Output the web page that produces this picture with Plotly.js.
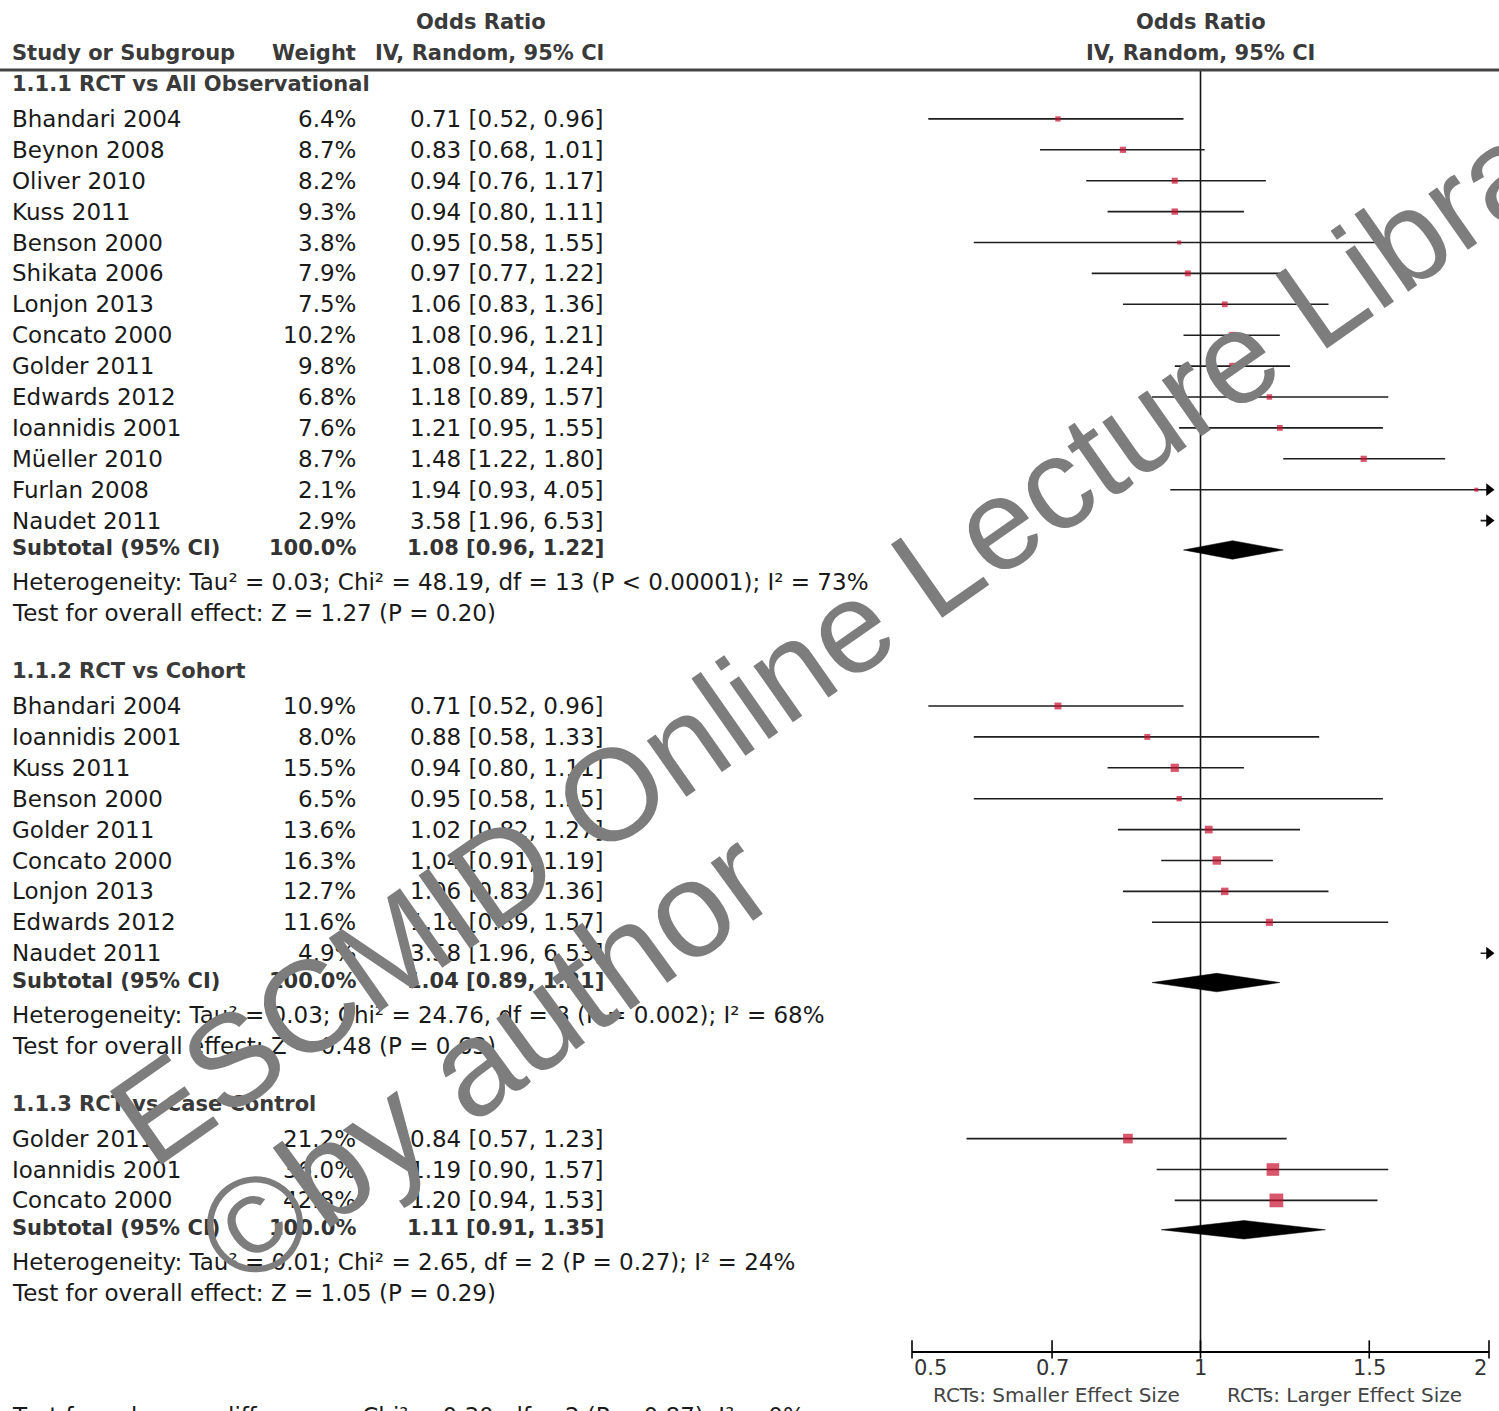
<!DOCTYPE html>
<html><head><meta charset="utf-8">
<script src="https://cdn.plot.ly/plotly-3.0.1.min.js"></script>
<style>html,body{margin:0;padding:0;background:#fff}#chart{width:1499px;height:1411px}</style>
</head><body><div id="chart"></div>
<script>
// ---------- data ----------
const groupTitles = ["1.1.1 RCT vs All Observational", "1.1.2 RCT vs Cohort", "1.1.3 RCT vs Case Control"];

const g1Studies = ["Bhandari 2004","Beynon 2008","Oliver 2010","Kuss 2011","Benson 2000","Shikata 2006","Lonjon 2013","Concato 2000","Golder 2011","Edwards 2012","Ioannidis 2001","Müeller 2010","Furlan 2008","Naudet 2011"];
const g1Weight  = [6.4, 8.7, 8.2, 9.3, 3.8, 7.9, 7.5, 10.2, 9.8, 6.8, 7.6, 8.7, 2.1, 2.9];
const g1OR      = [0.71, 0.83, 0.94, 0.94, 0.95, 0.97, 1.06, 1.08, 1.08, 1.18, 1.21, 1.48, 1.94, 3.58];
const g1Lo      = [0.52, 0.68, 0.76, 0.80, 0.58, 0.77, 0.83, 0.96, 0.94, 0.89, 0.95, 1.22, 0.93, 1.96];
const g1Hi      = [0.96, 1.01, 1.17, 1.11, 1.55, 1.22, 1.36, 1.21, 1.24, 1.57, 1.55, 1.80, 4.05, 6.53];

const g2Studies = ["Bhandari 2004","Ioannidis 2001","Kuss 2011","Benson 2000","Golder 2011","Concato 2000","Lonjon 2013","Edwards 2012","Naudet 2011"];
const g2Weight  = [10.9, 8.0, 15.5, 6.5, 13.6, 16.3, 12.7, 11.6, 4.9];
const g2OR      = [0.71, 0.88, 0.94, 0.95, 1.02, 1.04, 1.06, 1.18, 3.58];
const g2Lo      = [0.52, 0.58, 0.80, 0.58, 0.82, 0.91, 0.83, 0.89, 1.96];
const g2Hi      = [0.96, 1.33, 1.11, 1.55, 1.27, 1.19, 1.36, 1.57, 6.53];

const g3Studies = ["Golder 2011","Ioannidis 2001","Concato 2000"];
const g3Weight  = [21.2, 36.0, 42.8];
const g3OR      = [0.84, 1.19, 1.20];
const g3Lo      = [0.57, 0.90, 0.94];
const g3Hi      = [1.23, 1.57, 1.53];

const subtotalOR = [1.08, 1.04, 1.11];
const subtotalLo = [0.96, 0.89, 0.91];
const subtotalHi = [1.22, 1.21, 1.35];
const heterogeneity = [
  "Heterogeneity: Tau² = 0.03; Chi² = 48.19, df = 13 (P < 0.00001); I² = 73%",
  "Heterogeneity: Tau² = 0.03; Chi² = 24.76, df = 8 (P = 0.002); I² = 68%",
  "Heterogeneity: Tau² = 0.01; Chi² = 2.65, df = 2 (P = 0.27); I² = 24%"
];
const overallEffect = [
  "Test for overall effect: Z = 1.27 (P = 0.20)",
  "Test for overall effect: Z = 0.48 (P = 0.63)",
  "Test for overall effect: Z = 1.05 (P = 0.29)"
];
const subgroupDiff = "Test for subgroup differences: Chi² = 0.30, df = 2 (P = 0.87), I² = 0%";

const tickVals = [0.5, 0.7, 1, 1.5, 2];
const tickText = ["0.5", "0.7", "1", "1.5", "2"];
const favourLeft = "RCTs: Smaller Effect Size";
const favourRight = "RCTs: Larger Effect Size";
const watermark1 = "ESCMID Online Lecture Library";
const watermark2 = "©by author";

// ---------- layout helpers ----------
const W = 1499, H = 1411;
const ROW0 = 88, PITCH = 30.9;
const rowOf = p => (p - ROW0) / PITCH;
const FONT = "DejaVu Sans";
const BODY = {family: FONT, size: 23, color: "#1a1a1a"};
const BOLD = {family: FONT, size: 21, color: "#333", weight: "bold"};
const HEAD = {family: FONT, size: 21, color: "#3a3a3a", weight: "bold"};
const RED = "#c8102e";

const groups = [
  {studies: g1Studies, w: g1Weight, or: g1OR, lo: g1Lo, hi: g1Hi},
  {studies: g2Studies, w: g2Weight, or: g2OR, lo: g2Lo, hi: g2Hi},
  {studies: g3Studies, w: g3Weight, or: g3OR, lo: g3Lo, hi: g3Hi}
];

const xMin = tickVals[0], xMax = tickVals[tickVals.length - 1];
const fmtCI = (o, l, h) => o.toFixed(2) + " [" + l.toFixed(2) + ", " + h.toFixed(2) + "]";

const ann = [];
function txt(xp, row, text, anchor, font) {
  ann.push({xref: "paper", yref: "y", x: xp / W, y: row, text: text, showarrow: false,
            xanchor: anchor, yanchor: "middle", font: font});
}

// headers
txt(481, rowOf(22), "Odds Ratio", "center", HEAD);
txt(10, rowOf(53), "Study or Subgroup", "left", HEAD);
txt(358, rowOf(53), "Weight", "right", HEAD);
txt(606, rowOf(53), "IV, Random, 95% CI", "right", HEAD);
ann.push({xref: "x", yref: "y", x: Math.log10(1), y: rowOf(22), text: "Odds Ratio", showarrow: false, xanchor: "center", yanchor: "middle", font: HEAD});
ann.push({xref: "x", yref: "y", x: Math.log10(1), y: rowOf(53), text: "IV, Random, 95% CI", showarrow: false, xanchor: "center", yanchor: "middle", font: HEAD});

const ciX = [], ciY = [];
const mkX = [], mkY = [], mkS = [];
const arX = [], arY = [];
const dX = [], dY = [];

let row = 0;
groups.forEach((g, gi) => {
  txt(10, row - 0.12, groupTitles[gi], "left", HEAD);
  row++;
  g.studies.forEach((s, i) => {
    txt(10, row, s, "left", BODY);
    txt(358, row, g.w[i].toFixed(1) + "%", "right", BODY);
    txt(606, row, fmtCI(g.or[i], g.lo[i], g.hi[i]), "right", BODY);
    ciX.push(g.lo[i], g.hi[i], null); ciY.push(row, row, null);
    mkX.push(g.or[i]); mkY.push(row); mkS.push(Math.max(4, 2.1 * Math.sqrt(g.w[i])));
    if (g.hi[i] > xMax) { arX.push(xMax); arY.push(row); }
    row++;
  });
  // subtotal
  txt(10, row - 0.1, "Subtotal (95% CI)", "left", BOLD);
  txt(358, row - 0.1, "100.0%", "right", BOLD);
  txt(606, row - 0.1, fmtCI(subtotalOR[gi], subtotalLo[gi], subtotalHi[gi]), "right", BOLD);
  const r = row - 0.05;
  dX.push(subtotalLo[gi], subtotalOR[gi], subtotalHi[gi], subtotalOR[gi], subtotalLo[gi], null);
  dY.push(r, r - 0.3, r, r + 0.3, r, null);
  row++;
  txt(10, row, heterogeneity[gi], "left", BODY); row++;
  txt(10, row, overallEffect[gi], "left", BODY); row += 2;
});

const axisRow = rowOf(1351);

// tick labels & axis titles
tickVals.forEach((v, i) => {
  const anchor = i === 0 ? "left" : (i === tickVals.length - 1 ? "right" : "center");
  ann.push({xref: "x", yref: "y", x: Math.log10(v), y: rowOf(1368), text: tickText[i], showarrow: false,
            xanchor: anchor, yanchor: "middle", font: {family: FONT, size: 21, color: "#333"}});
});
ann.push({xref: "x", yref: "y", x: Math.log10(Math.sqrt(xMin * 1)), y: rowOf(1395), text: favourLeft, showarrow: false,
          xanchor: "center", yanchor: "middle", font: {family: FONT, size: 20, color: "#444"}});
ann.push({xref: "x", yref: "y", x: Math.log10(Math.sqrt(xMax * 1)), y: rowOf(1395), text: favourRight, showarrow: false,
          xanchor: "center", yanchor: "middle", font: {family: FONT, size: 20, color: "#444"}});
// subgroup differences (cut at the bottom edge, as in the reference)
ann.push({xref: "paper", yref: "paper", x: 10 / W, y: 1 - 1416 / H, text: subgroupDiff, showarrow: false,
          xanchor: "left", yanchor: "middle", font: BODY});

// watermark
ann.push({xref: "paper", yref: "paper", x: 872 / W, y: 1 - 612 / H, text: watermark1, showarrow: false,
          textangle: -35, xanchor: "center", yanchor: "middle",
          font: {family: "Liberation Sans", size: 130, color: "#7d7d7d"}});
ann.push({xref: "paper", yref: "paper", x: 484 / W, y: 1 - 1058 / H, text: watermark2, showarrow: false,
          textangle: -36, xanchor: "center", yanchor: "middle",
          font: {family: "Liberation Sans", size: 136, color: "#7d7d7d"}});

const traces = [
  {type: "scatter", mode: "lines", x: ciX, y: ciY, line: {color: "#1e1e1e", width: 1.6}, hoverinfo: "skip", showlegend: false},
  {type: "scatter", mode: "lines", x: dX, y: dY, fill: "toself", fillcolor: "#000", line: {color: "#000", width: 0.5}, hoverinfo: "skip", showlegend: false},
  {type: "scatter", mode: "markers", x: mkX, y: mkY, marker: {symbol: "square", color: RED, size: mkS, line: {width: 0}}, cliponaxis: true, hoverinfo: "skip", showlegend: false},
  {type: "scatter", mode: "markers", x: arX, y: arY, marker: {symbol: "triangle-right", color: "#000", size: 11}, cliponaxis: false, hoverinfo: "skip", showlegend: false},
  {type: "scatter", mode: "markers", x: tickVals, y: tickVals.map(() => axisRow - 0.05), marker: {symbol: "line-ns-open", color: "#000", size: 13, line: {width: 1.6, color: "#000"}}, cliponaxis: false, hoverinfo: "skip", showlegend: false}
];

const layout = {
  width: W, height: H,
  margin: {l: 0, r: 0, t: 0, b: 0, pad: 0},
  paper_bgcolor: "#fff", plot_bgcolor: "rgba(0,0,0,0)",
  showlegend: false,
  xaxis: {type: "log", range: [Math.log10(xMin), Math.log10(xMax)], domain: [912 / W, 1489 / W],
          anchor: "free", position: 1 - 1351 / H, showline: true, linecolor: "#000", linewidth: 1.6,
          showgrid: false, zeroline: false, ticks: "", showticklabels: false, fixedrange: true},
  yaxis: {range: [rowOf(H), rowOf(0)], domain: [0, 1], visible: false, fixedrange: true},
  shapes: [
    {type: "line", xref: "paper", yref: "y", x0: 0, x1: 1, y0: rowOf(70), y1: rowOf(70), line: {color: "#444", width: 3}},
    {type: "line", xref: "x", yref: "y", x0: 1, x1: 1, y0: rowOf(70), y1: axisRow, line: {color: "#111", width: 1.6}, layer: "below"}
  ],
  annotations: ann
};
Plotly.newPlot("chart", traces, layout, {staticPlot: true, displayModeBar: false});
</script>
</body></html>
